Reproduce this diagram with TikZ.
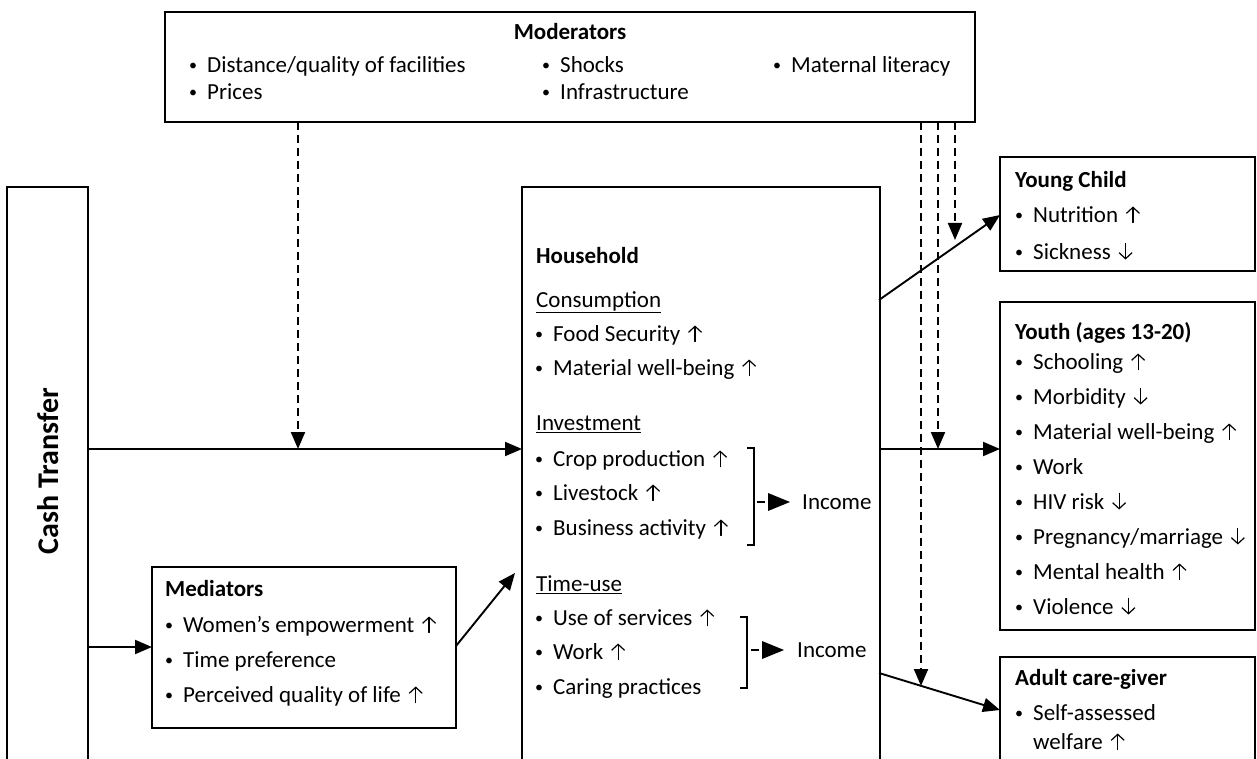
\documentclass[tikz,border=0pt]{standalone}
\usepackage{fontspec}
\setmainfont{Carlito}
\usetikzlibrary{arrows.meta}
\newcommand\fs{\fontsize{23}{27}\selectfont}
\newcommand\upa{\hspace{2.5pt}\tikz[baseline=0pt]{\draw[line width=1.2pt, line cap=round, -{Straight Barb[length=6pt,width=13pt,line width=1.2pt]}] (0pt,0pt) -- (0pt,16pt);}}
\newcommand\dna{\hspace{2.5pt}\tikz[baseline=0pt]{\draw[line width=1.2pt, line cap=round, -{Straight Barb[length=6pt,width=13pt,line width=1.2pt]}] (0pt,16pt) -- (0pt,0pt);}}
\newcommand\bl{\makebox[18pt][l]{\fontsize{16}{16}\selectfont\raisebox{1.8pt}{•}}}
\begin{document}
\begin{tikzpicture}[x=1pt,y=-1pt,
  box/.style={draw, line width=1.3pt, anchor=north west, inner sep=0pt, outer sep=0pt},
  txt/.style={anchor=west, inner sep=0pt, text height=0.7em, text depth=0.2em, font=\fs, yshift=-5pt},
  ttl/.style={txt, font=\fs\bfseries},
  arr/.style={line width=1.9pt, -{Triangle[length=17pt,width=14pt]}},
  darr/.style={line width=2.1pt, dash pattern=on 8pt off 5pt, -{Triangle[length=17pt,width=14pt]}},
  brk/.style={line width=1.8pt},
  tri/.style={fill=black}
]
\useasboundingbox (0,0) rectangle (1257,759);
\clip (0,0) rectangle (1257,759);
\fill[white] (0,0) rectangle (1257,759);

% boxes
\node[box, minimum width=81pt, minimum height=620pt] (cash) at (7,187) {};
\node[box, minimum width=810pt, minimum height=110pt] (mod) at (165,12) {};
\node[box, minimum width=358pt, minimum height=620pt] (hh) at (522,187) {};
\node[box, minimum width=304pt, minimum height=161pt] (med) at (152,567) {};
\node[box, minimum width=255pt, minimum height=114pt] (yc) at (1000,157) {};
\node[box, minimum width=255pt, minimum height=328pt] (yo) at (1000,302) {};
\node[box, minimum width=255pt, minimum height=200pt] (ad) at (1000,657) {};

% cash transfer
\node[rotate=90, inner sep=0pt, font=\fontsize{30}{34}\selectfont\bfseries] (ctxt) at (48,471) {Cash Transfer};

% moderators
\node[font=\fs\bfseries, inner sep=0pt] (modt) at (570,32) {Moderators};
\node[txt] (m1) at (189,65) {\bl Distance/quality of facilities};
\node[txt] (m2) at (189,92) {\bl Prices};
\node[txt] (m3) at (542,65) {\bl Shocks};
\node[txt] (m4) at (542,92) {\bl Infrastructure};
\node[txt] (m5) at (773,65) {\bl Maternal literacy};

% household
\node[ttl] (hht) at (536,256) {Household};
\node[txt] (h1) at (536,300) {\underline{Consumption}};
\node[txt] (h2) at (535,334) {\bl Food Security \upa};
\node[txt] (h3) at (535,368) {\bl Material well-being \upa};
\node[txt] (h4) at (536,423) {\underline{Investment}};
\node[txt] (h5) at (535,459) {\bl Crop production \upa};
\node[txt] (h6) at (535,493) {\bl Livestock \upa};
\node[txt] (h7) at (535,528) {\bl Business activity \upa};
\node[txt] (h8) at (536,584) {\underline{Time-use}};
\node[txt] (h9) at (535,618) {\bl Use of services \upa};
\node[txt] (h10) at (535,652) {\bl Work \upa};
\node[txt] (h11) at (535,687) {\bl Caring practices};
\node[txt] (inc1) at (802,502) {Income};
\node[txt] (inc2) at (797,650) {Income};

% mediators
\node[ttl] (medt) at (165,589) {Mediators};
\node[txt] (d1) at (165,625) {\bl Women’s empowerment \upa};
\node[txt] (d2) at (165,660) {\bl Time preference};
\node[txt] (d3) at (165,695) {\bl Perceived quality of life \upa};

% young child
\node[ttl] (yct) at (1015,180) {Young Child};
\node[txt] (y1) at (1015,215) {\bl Nutrition \upa};
\node[txt] (y2) at (1015,252) {\bl Sickness \dna};

% youth
\node[ttl] (yot) at (1015,332) {Youth (ages 13-20)};
\node[txt] (o1) at (1015,362) {\bl Schooling \upa};
\node[txt] (o2) at (1015,397) {\bl Morbidity \dna};
\node[txt] (o3) at (1015,432) {\bl Material well-being \upa};
\node[txt] (o4) at (1015,467) {\bl Work};
\node[txt] (o5) at (1015,502) {\bl HIV risk \dna};
\node[txt] (o6) at (1015,537) {\bl Pregnancy/marriage \dna};
\node[txt] (o7) at (1015,572) {\bl Mental health \upa};
\node[txt] (o8) at (1015,607) {\bl Violence \dna};

% adult
\node[ttl] (adt) at (1015,678) {Adult care-giver};
\node[txt] (a1) at (1015,713) {\bl Self-assessed};
\node[txt] (a2) at (1033,742) {welfare \upa};

% helper coordinates
\coordinate (ym) at (0,449);
\coordinate (ymed) at (0,647);
\coordinate (p1) at (298,449);
\coordinate (medout) at (456,646);
\coordinate (hhin) at (515,573);
\coordinate (hhyc) at (879,300);
\coordinate (ycin) at (1000,215);
\coordinate (hhad) at (879,673);
\coordinate (adin) at (1000,710);
\coordinate (dx1) at (921,686);
\coordinate (dx2) at (938,449);
\coordinate (dx3) at (955,240);

% solid connectors
\draw[arr] (cash.east |- ym) -- (hh.west |- ym);
\draw[arr] (cash.east |- ymed) -- (med.west |- ymed);
\draw[arr] (medout) -- (hhin);
\draw[arr] (hhyc) -- (ycin);
\draw[arr] (hh.east |- ym) -- (yo.west |- ym);
\draw[arr] (hhad) -- (adin);

% dashed moderator connectors
\draw[darr] (mod.south -| p1) -- (p1);
\draw[darr] (mod.south -| dx1) -- (dx1);
\draw[darr] (mod.south -| dx2) -- (dx2);
\draw[darr] (mod.south -| dx3) -- (dx3);

% brackets and income arrows
\draw[brk] (747,448) -- (754,448) -- (754,545) -- (747,545);
\draw[brk] (757,502) -- (765,502);
\fill[tri] (768,493) -- (790,502) -- (768,511) -- cycle;
\draw[brk] (740,617) -- (747,617) -- (747,688) -- (740,688);
\draw[brk] (751,650) -- (759,650);
\fill[tri] (762,641) -- (784,650) -- (762,659) -- cycle;
\end{tikzpicture}
\end{document}
